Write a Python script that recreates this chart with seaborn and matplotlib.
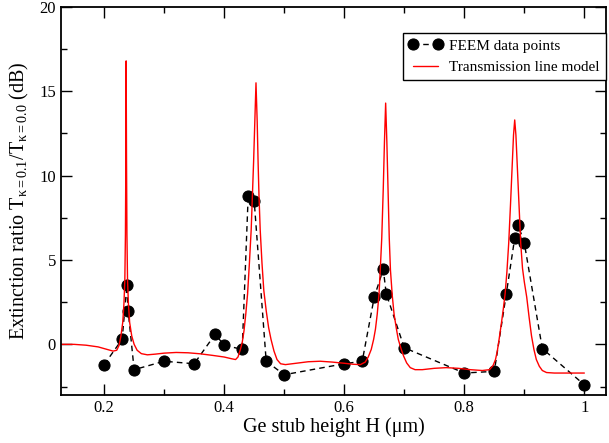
import matplotlib
matplotlib.use("Agg")
import matplotlib.pyplot as plt
import seaborn as sns
import pandas as pd

# FEEM simulation results: extinction ratio versus Ge stub height
feem_h = [0.20, 0.23, 0.238, 0.24, 0.25, 0.30, 0.35, 0.385, 0.40, 0.43,
          0.44, 0.45, 0.47, 0.50, 0.60, 0.63, 0.65, 0.665, 0.67, 0.70,
          0.80, 0.85, 0.87, 0.884, 0.89, 0.90, 0.93, 1.00]
feem_er = [-1.2, 0.3, 3.5, 2.0, -1.5, -1.0, -1.15, 0.6, -0.05, -0.3,
           8.8, 8.5, -1.0, -1.8, -1.15, -1.0, 2.8, 4.45, 3.0, -0.2,
           -1.7, -1.6, 3.0, 6.3, 7.05, 6.0, -0.25, -2.4]

# Transmission line model curve
model_h = [0.128, 0.15, 0.17, 0.19, 0.205, 0.215, 0.221, 0.225, 0.228, 0.231,
           0.233, 0.2345, 0.2355, 0.2362, 0.2367, 0.2373, 0.238, 0.239, 0.2405, 0.2425,
           0.246, 0.250, 0.255, 0.262, 0.272, 0.285, 0.30, 0.32, 0.34, 0.36,
           0.38, 0.40, 0.412, 0.419, 0.423, 0.427, 0.430, 0.433, 0.436, 0.439,
           0.442, 0.445, 0.447, 0.449, 0.451, 0.453, 0.455, 0.4565, 0.458, 0.460,
           0.463, 0.466, 0.470, 0.474, 0.478, 0.483, 0.488, 0.494, 0.502, 0.52,
           0.54, 0.56, 0.58, 0.60, 0.615, 0.627, 0.635, 0.640, 0.645, 0.649,
           0.652, 0.655, 0.658, 0.660, 0.6625, 0.665, 0.667, 0.669, 0.671, 0.673,
           0.675, 0.677, 0.680, 0.683, 0.687, 0.690, 0.695, 0.699, 0.704, 0.71,
           0.718, 0.73, 0.75, 0.77, 0.79, 0.81, 0.83, 0.842, 0.848, 0.852,
           0.855, 0.858, 0.862, 0.865, 0.868, 0.871, 0.874, 0.877, 0.880, 0.882,
           0.884, 0.886, 0.888, 0.891, 0.894, 0.897, 0.900, 0.904, 0.908, 0.912,
           0.916, 0.920, 0.925, 0.930, 0.937, 0.95, 0.97, 1.00]
model_er = [0.0, 0.0, -0.05, -0.15, -0.3, -0.4, -0.35, -0.05, 0.5, 1.3,
            2.4, 3.8, 6.5, 11.0, 16.8, 11.0, 6.5, 3.8, 2.4, 1.3,
            0.5, 0.0, -0.35, -0.55, -0.62, -0.58, -0.52, -0.48, -0.5, -0.56,
            -0.65, -0.75, -0.85, -0.9, -0.75, -0.3, 0.1, 0.8, 1.8, 3.0,
            4.8, 6.8, 8.8, 10.8, 13.2, 15.5, 13.2, 10.8, 8.8, 6.8,
            4.8, 3.2, 2.0, 1.0, 0.3, -0.4, -0.9, -1.15, -1.2, -1.12,
            -1.03, -1.0, -1.05, -1.12, -1.18, -1.2, -1.05, -0.75, -0.3, 0.3,
            0.9, 1.8, 3.0, 4.4, 6.3, 9.2, 12.0, 14.3, 12.0, 9.2,
            6.3, 4.4, 2.9, 1.8, 0.9, 0.3, -0.3, -0.7, -1.1, -1.38,
            -1.5, -1.5, -1.42, -1.38, -1.42, -1.5, -1.55, -1.5, -1.25, -0.9,
            -0.4, 0.3, 1.3, 2.1, 3.0, 4.3, 6.0, 8.3, 10.8, 12.4,
            13.3, 12.4, 10.8, 8.3, 6.0, 4.5, 3.7, 2.8, 1.6, 0.5,
            -0.3, -0.9, -1.3, -1.55, -1.67, -1.7, -1.7, -1.7]

x_ticks = [0.2, 0.4, 0.6, 0.8, 1.0]
x_ticklabels = ["0.2", "0.4", "0.6", "0.8", "1"]
y_ticks = [0, 5, 10, 15, 20]

sns.set_style("ticks")
plt.rcParams["font.family"] = ["Liberation Serif", "DejaVu Serif"]
plt.rcParams["mathtext.fontset"] = "custom"
plt.rcParams["mathtext.rm"] = "Liberation Serif"
plt.rcParams["mathtext.it"] = "Liberation Serif:italic"
plt.rcParams["text.color"] = "black"
plt.rcParams["axes.labelcolor"] = "black"

feem = pd.DataFrame({"h": feem_h, "er": feem_er})
model = pd.DataFrame({"h": model_h, "er": model_er})

fig = plt.figure(figsize=(6.09, 4.43), dpi=100)
ax = fig.add_axes([0.100, 0.1084, 0.895, 0.876])

sns.lineplot(data=feem, x="h", y="er", ax=ax, color="black", linewidth=1.0,
             linestyle=(0, (4, 3)), marker="o", markersize=8,
             markeredgecolor="black", markerfacecolor="black",
             label="FEEM data points")
sns.lineplot(data=model, x="h", y="er", ax=ax, color="red", linewidth=1.0,
             label="Transmission line model")

ax.set_xlim(0.128, 1.036)
ax.set_ylim(-3, 20)
ax.set_xticks(x_ticks)
ax.set_xticklabels(x_ticklabels)
ax.set_yticks(y_ticks)
ax.set_xticks([0.3, 0.5, 0.7, 0.9], minor=True)
ax.set_yticks([-2.5, 2.5, 7.5, 12.5, 17.5], minor=True)
ax.tick_params(which="both", direction="in", top=True, right=True,
               labelsize=12, colors="black")
ax.tick_params(which="major", length=8, width=1.0)
ax.tick_params(which="minor", length=4, width=1.0)
for s in ax.spines.values():
    s.set_linewidth(1.3)
    s.set_color("black")

ax.set_xlabel("Ge stub height H (μm)", fontsize=14.5, labelpad=1)
ax.set_ylabel(r"Extinction ratio T$_{\mathrm{κ=0.1}}$/T$_{\mathrm{κ=0.0}}$ (dB)",
              fontsize=14.5, labelpad=6)

leg = ax.legend(loc="upper right", bbox_to_anchor=(1.0, 0.933),
                borderaxespad=0, fontsize=11, numpoints=2, handlelength=2.2,
                handletextpad=0.45, borderpad=0.4,
                fancybox=False, frameon=True, framealpha=1)
leg.get_frame().set_edgecolor("black")
leg.get_frame().set_linewidth(1.0)

fig.savefig("out.png", dpi=100)
